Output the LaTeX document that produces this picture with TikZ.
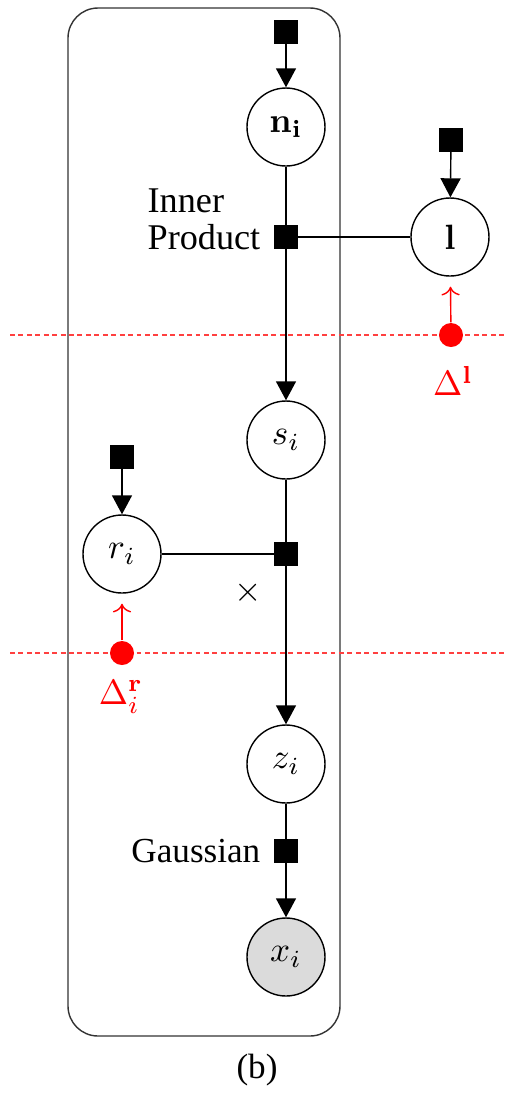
\documentclass[tikz,border=0pt]{standalone}
\usepackage{amsmath,amssymb}
\usepackage[no-math]{fontspec}
\setmainfont{Liberation Serif}
\usepackage{tikz}
\usetikzlibrary{arrows.meta, positioning}

\begin{document}
\begin{tikzpicture}[font=\normalsize,
    latent/.style={draw, circle, minimum size=7.8mm, inner sep=0pt},
    obs/.style={latent, fill=black!14},
    fac/.style={draw, fill=black, rectangle, minimum size=2.2mm, inner sep=0pt},
    dlt/.style={circle, fill=red, minimum size=2.4mm, inner sep=0pt},
    edge/.style={-{Triangle[length=1.9mm,width=2mm]}},
    cut/.style={red!75, line width=0.3pt, dash pattern=on 1.4pt off 1pt}]
    \useasboundingbox (0,0) rectangle (5.06,-10.93);
    % plate
    \draw[black!80, rounded corners=3mm] (0.68,-0.08) rectangle (3.40,-10.36);
    % cut lines
    \draw[cut] (0.10,-3.35) -- (5.06,-3.35);
    \draw[cut] (0.10,-6.53) -- (5.06,-6.53);

    \node[fac] (fn) at (2.86,-0.32) {};
    \node[latent] (n) at (2.86,-1.27) {$\mathbf{n}_{\mathbf{i}}$};
    \node[fac] (fip) at (2.86,-2.37) {};
    \node[align=left, anchor=east, inner sep=0pt, font=\fontsize{10.3}{10.6}\selectfont] (iplbl) at (2.61,-2.19) {Inner\\Product};
    \node[fac] (fl) at (4.51,-1.40) {};
    \node[latent] (l) at (4.50,-2.37) {$\mathbf{l}$};
    \node[dlt] (dl) at (4.51,-3.35) {};
    \node[red] (dltxt) at (4.53,-3.81) {$\Delta^{\mathbf{l}}$};

    \node[latent] (s) at (2.86,-4.40) {$s_i$};
    \node[fac] (fr) at (1.22,-4.57) {};
    \node[latent] (r) at (1.22,-5.54) {$r_i$};
    \node[fac] (fx) at (2.86,-5.54) {};
    \node (xlbl) at (2.48,-5.93) {$\times$};
    \node[dlt] (dr) at (1.22,-6.53) {};
    \node[red] (drtxt) at (1.21,-6.97) {$\Delta_i^{\mathbf{r}}$};

    \node[latent] (z) at (2.86,-7.64) {$z_i$};
    \node[fac] (fg) at (2.86,-8.51) {};
    \node[anchor=east, inner sep=0pt] (glbl) at (2.61,-8.51) {Gaussian};
    \node[obs] (x) at (2.86,-9.57) {$x_i$};
    \node (cap) at (2.57,-10.70) {(b)};

    \draw[edge] (fn) -- (n);
    \draw (n) -- (fip);
    \draw (fip) -- (l);
    \draw[edge] (fl) -- (l);
    \draw[edge] (fip) -- (s);
    \draw[red, ->, shorten >=1mm] (dl) -- (l);
    \draw (s) -- (fx);
    \draw (r) -- (fx);
    \draw[edge] (fr) -- (r);
    \draw[edge] (fx) -- (z);
    \draw[red, ->, shorten >=1mm] (dr) -- (r);
    \draw (z) -- (fg);
    \draw[edge] (fg) -- (x);
\end{tikzpicture}
\end{document}
